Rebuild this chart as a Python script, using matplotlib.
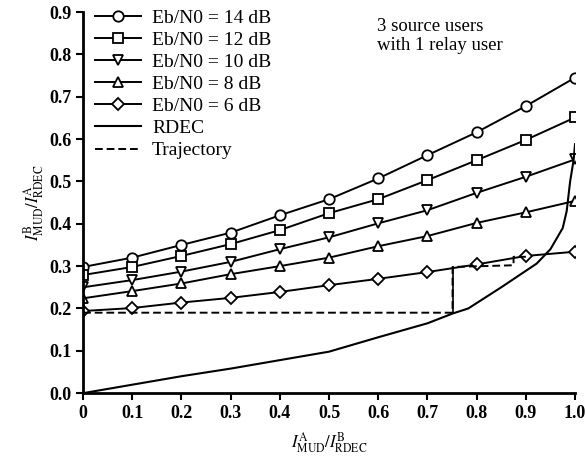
import numpy as np
import matplotlib.pyplot as plt

plt.rcParams['font.family'] = 'Liberation Serif'
plt.rcParams['mathtext.fontset'] = 'stix'

x = np.arange(0, 1.01, 0.1)

snr_14 = [0.298, 0.320, 0.350, 0.379, 0.420, 0.458, 0.507, 0.562, 0.616, 0.678, 0.745]
snr_12 = [0.279, 0.298, 0.324, 0.352, 0.385, 0.425, 0.458, 0.503, 0.550, 0.598, 0.651]
snr_10 = [0.250, 0.267, 0.287, 0.310, 0.340, 0.368, 0.401, 0.432, 0.473, 0.511, 0.552]
snr_8 = [0.224, 0.241, 0.259, 0.281, 0.300, 0.320, 0.347, 0.371, 0.402, 0.427, 0.454]
snr_6 = [0.194, 0.201, 0.214, 0.225, 0.239, 0.255, 0.270, 0.286, 0.304, 0.324, 0.334]

rdec_x = [0, 0.1, 0.2, 0.3, 0.4, 0.5, 0.6, 0.7, 0.751, 0.783, 0.85, 0.922, 0.95, 0.975, 0.983, 0.99, 0.997, 1.0]
rdec_y = [0, 0.02, 0.04, 0.058, 0.078, 0.098, 0.132, 0.165, 0.188, 0.200, 0.250, 0.306, 0.34, 0.39, 0.43, 0.50, 0.55, 0.588]

traj_x = [0, 0.751, 0.751, 0.875, 0.875, 0.9]
traj_y = [0.19, 0.19, 0.298, 0.302, 0.322, 0.322]

fig = plt.figure(figsize=(5.85, 4.62), dpi=100)
ax = fig.add_axes([0.142, 0.149, 0.841, 0.825])

series = [(snr_14, 'o', 'Eb/N0 = 14 dB'),
          (snr_12, 's', 'Eb/N0 = 12 dB'),
          (snr_10, 'v', 'Eb/N0 = 10 dB'),
          (snr_8, '^', 'Eb/N0 = 8 dB'),
          (snr_6, 'D', 'Eb/N0 = 6 dB')]
for ys, m, lab in series:
    ms = 6 if m == 'D' else 7.5
    ax.plot(x, ys, color='black', lw=1.4, marker=m, ms=ms, mfc='white',
            mec='black', mew=1.3, label=lab)

ax.plot(rdec_x, rdec_y, color='black', lw=1.5, label='RDEC')
ax.plot(traj_x, traj_y, color='black', lw=1.4, ls=(0, (4, 2)), label='Trajectory')
# vertical step of the trajectory is drawn solid in the original
ax.plot(traj_x[1:3], traj_y[1:3], color='black', lw=1.2)

ax.set_xlim(0, 1.0)
ax.set_ylim(0, 0.9)
ax.set_xticks(np.arange(0, 1.01, 0.1))
ax.set_xticklabels(['0', '0.1', '0.2', '0.3', '0.4', '0.5', '0.6', '0.7', '0.8', '0.9', '1.0'])
ax.set_yticks(np.arange(0, 0.91, 0.1))
ax.set_yticklabels(['%.1f' % v for v in np.arange(0, 0.91, 0.1)])
for lbl in ax.get_xticklabels() + ax.get_yticklabels():
    lbl.set_fontweight('bold')
    lbl.set_fontsize(13)
ax.tick_params(direction='out', length=5, width=1.5)
ax.spines['top'].set_visible(False)
ax.spines['right'].set_visible(False)
ax.spines['left'].set_linewidth(2)
ax.spines['bottom'].set_linewidth(2)

ax.set_xlabel(r'$I^{\mathrm{A}}_{\mathrm{MUD}}/I^{\mathrm{B}}_{\mathrm{RDEC}}$', fontsize=12, labelpad=6)
ax.set_ylabel(r'$I^{\mathrm{B}}_{\mathrm{MUD}}/I^{\mathrm{A}}_{\mathrm{RDEC}}$', fontsize=12, labelpad=2)

ax.legend(loc='upper left', bbox_to_anchor=(0.0, 1.038), frameon=False, fontsize=14,
          handlelength=2.4, handletextpad=0.55, labelspacing=0.23, borderaxespad=0.2)

ax.text(0.597, 0.885, '3 source users\nwith 1 relay user', fontsize=13.5,
        ha='left', va='top', linespacing=1.1)

fig.savefig('out.png', dpi=100)
